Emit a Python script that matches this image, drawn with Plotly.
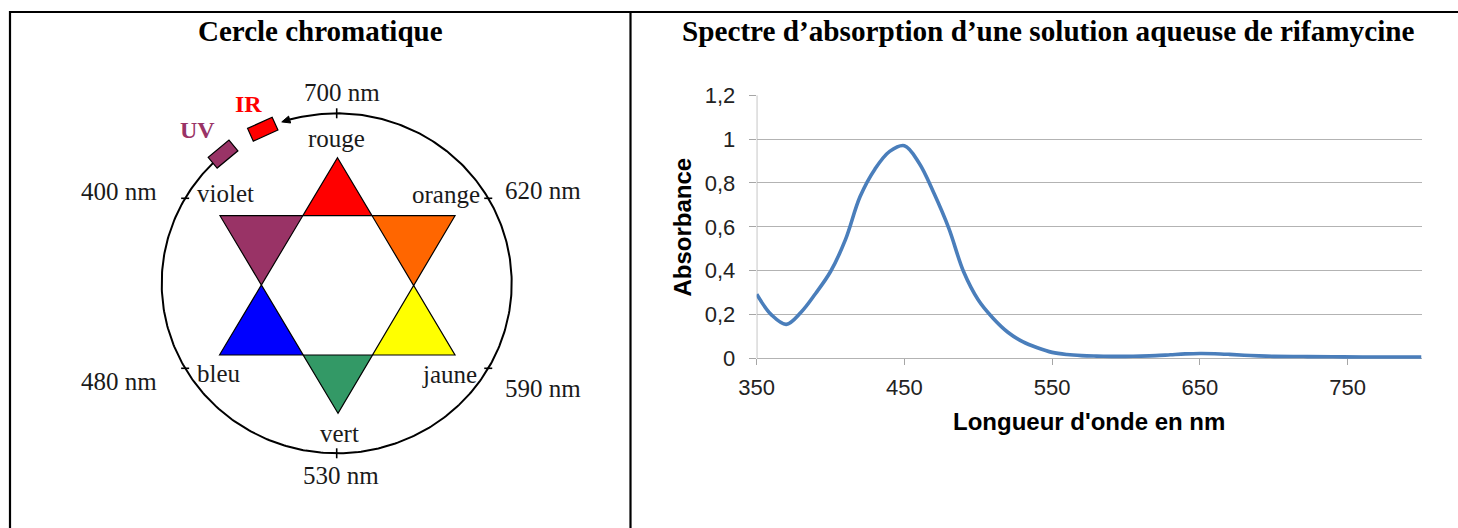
import math
import plotly.graph_objects as go

# ---------------- data ----------------
wavelength_nm = [350, 360, 370, 380, 390, 400, 410, 420, 430, 440, 450, 460, 470, 480, 490,
                 500, 510, 520, 530, 540, 550, 560, 570, 580, 590, 600, 610, 620, 630, 640,
                 650, 660, 670, 680, 690, 700, 720, 740, 760, 780, 800]
absorbance = [0.292, 0.198, 0.155, 0.21, 0.297, 0.396, 0.54, 0.738, 0.863, 0.944, 0.97, 0.89, 0.753, 0.594, 0.396,
              0.266, 0.183, 0.119, 0.076, 0.048, 0.027, 0.017, 0.012, 0.01, 0.009, 0.009, 0.01, 0.012, 0.016, 0.02,
              0.022, 0.021, 0.018, 0.014, 0.011, 0.009, 0.008, 0.007, 0.006, 0.006, 0.006]
x_ticks = [350, 450, 550, 650, 750]
y_ticks = [0, 0.2, 0.4, 0.6, 0.8, 1.0, 1.2]
y_tick_labels = ["0", "0,2", "0,4", "0,6", "0,8", "1", "1,2"]

wheel_wavelength_labels = ["700 nm", "620 nm", "590 nm", "530 nm", "480 nm", "400 nm"]
wheel_color_names = ["rouge", "orange", "jaune", "vert", "bleu", "violet"]
wheel_color_fills = ["#FF0000", "#FF6600", "#FFFF00", "#339966", "#0000FF", "#993366"]
outside_labels = ["IR", "UV"]
outside_colors = ["#FF0000", "#993366"]

left_title = "Cercle chromatique"
right_title = "Spectre d\u2019absorption d\u2019une solution aqueuse de rifamycine"
x_title = "Longueur d'onde en nm"
y_title = "Absorbance"

# ---------------- layout constants ----------------
W, H = 1458, 528
LEFT_W = 630
SERIF = "Liberation Serif"
SANS = "Liberation Sans"

cx, cy, rx, ry = 336.7, 283.3, 175.0, 170.0
tick_angles = [90, 30, -30, -90, -150, 150]
wl_pos = [(341.7, 92, "center"), (503.3, 190, "left"), (503.3, 388, "left"),
          (340.7, 475, "center"), (159.3, 381, "right"), (159.3, 191, "right")]
name_pos = [(336.7, 138.5, "center"), (481.7, 194, "right"), (478.5, 374, "right"),
            (339.3, 433, "center"), (195, 373, "left"), (195, 193, "left")]
outside_pos = [(248.3, 103.5), (197.3, 130)]
box_angles = [115, 130.5]
box_len, box_wid = 27, 14
arc_start, arc_end = 135.0, 360 + 105.6
arrow_tip_angle = 108.3

up_tri = [(337.5, 157.7), (455.0, 355.0), (219.5, 355.0)]
down_tri = [(220.0, 215.7), (455.0, 215.7), (338.0, 413.3)]


def ell(theta_deg, dr=0.0):
    t = math.radians(theta_deg)
    return (cx + (rx + dr) * math.cos(t), cy - (ry + dr) * math.sin(t))


def intersect(p1, p2, p3, p4):
    x1, y1 = p1; x2, y2 = p2; x3, y3 = p3; x4, y4 = p4
    d = (x1 - x2) * (y3 - y4) - (y1 - y2) * (x3 - x4)
    a = x1 * y2 - y1 * x2
    b = x3 * y4 - y3 * x4
    return ((a * (x3 - x4) - (x1 - x2) * b) / d, (a * (y3 - y4) - (y1 - y2) * b) / d)


def path(pts):
    return "M " + " L ".join(f"{x:.2f},{y:.2f}" for x, y in pts) + " Z"


fig = go.Figure()

# ---------------- right chart ----------------
px_per_unit = 263.0 / 1.2
y_min = -0.02
y_zero_px = 358.3
y_top_px = 95.3
y_bot_px = y_zero_px - y_min * px_per_unit
fig.add_trace(go.Scatter(
    x=wavelength_nm, y=absorbance, mode="lines",
    line=dict(color="#4A7EBB", width=3.6, shape="spline", smoothing=1.0),
    xaxis="x", yaxis="y", showlegend=False, hoverinfo="skip"))

# ---------------- left diagram ----------------
n = 400
arc_pts = [ell(arc_start + (arc_end - arc_start) * i / n) for i in range(n + 1)]
fig.add_trace(go.Scatter(
    x=[p[0] for p in arc_pts], y=[p[1] for p in arc_pts], mode="lines",
    line=dict(color="black", width=2), xaxis="x2", yaxis="y2",
    showlegend=False, hoverinfo="skip"))

shapes = []
P1 = intersect(up_tri[0], up_tri[2], down_tri[0], down_tri[1])
P2 = intersect(up_tri[0], up_tri[1], down_tri[0], down_tri[1])
P3 = intersect(up_tri[0], up_tri[1], down_tri[1], down_tri[2])
P4 = intersect(up_tri[1], up_tri[2], down_tri[1], down_tri[2])
P5 = intersect(up_tri[1], up_tri[2], down_tri[0], down_tri[2])
P6 = intersect(up_tri[0], up_tri[2], down_tri[0], down_tri[2])
point_tris = [
    [up_tri[0], P2, P1],
    [down_tri[1], P3, P2],
    [up_tri[1], P4, P3],
    [down_tri[2], P5, P4],
    [up_tri[2], P6, P5],
    [down_tri[0], P1, P6],
]
for tri, col in zip(point_tris, wheel_color_fills):
    shapes.append(dict(type="path", xref="x2", yref="y2", path=path(tri),
                       fillcolor=col, line=dict(color="black", width=1.2)))

for ang in tick_angles:
    x, y = ell(ang)
    if ang in (90, -90):
        x0, y0, x1, y1 = x, y - 5, x, y + 5
    else:
        x0, y0, x1, y1 = x - 4, y, x + 4, y
    shapes.append(dict(type="line", xref="x2", yref="y2", x0=x0, y0=y0, x1=x1, y1=y1,
                       line=dict(color="black", width=1.6)))

for ang, col in zip(box_angles, outside_colors):
    c = ell(ang)
    t = math.radians(ang)
    tx, ty = -rx * math.sin(t), -ry * math.cos(t)
    tl = math.hypot(tx, ty); tx, ty = tx / tl, ty / tl
    nx, ny = ty, -tx
    pts = []
    for a, b in [(1, 1), (1, -1), (-1, -1), (-1, 1)]:
        pts.append((c[0] + a * box_len / 2 * tx + b * box_wid / 2 * nx,
                    c[1] + a * box_len / 2 * ty + b * box_wid / 2 * ny))
    shapes.append(dict(type="path", xref="x2", yref="y2", path=path(pts),
                       fillcolor=col, line=dict(color="black", width=1.2)))

tip = ell(arrow_tip_angle)
base = ell(arc_end - 360)
bx, by = base[0] - tip[0], base[1] - tip[1]
bl = math.hypot(bx, by)
nx, ny = -by / bl * 3.6, bx / bl * 3.6
shapes.append(dict(type="path", xref="x2", yref="y2",
                   path=path([tip, (base[0] + nx, base[1] + ny), (base[0] - nx, base[1] - ny)]),
                   fillcolor="black", line=dict(color="black", width=1)))

shapes.append(dict(type="line", xref="x", yref="y", x0=x_ticks[0], x1=x_ticks[0], y0=0, y1=y_ticks[-1],
                   line=dict(color="#A6A6A6", width=1.3), layer="below"))


def px(xp):
    return xp / W


def py(yp):
    return 1 - yp / H


shapes += [
    dict(type="line", xref="paper", yref="paper", x0=px(9), x1=1.0, y0=py(12), y1=py(12),
         line=dict(color="black", width=2.2)),
    dict(type="line", xref="paper", yref="paper", x0=px(10), x1=px(10), y0=0, y1=py(11),
         line=dict(color="black", width=2.2)),
    dict(type="line", xref="paper", yref="paper", x0=px(630.5), x1=px(630.5), y0=0, y1=py(11),
         line=dict(color="black", width=2.2)),
]

annotations = []
annotations.append(dict(x=px(320), y=py(31), xref="paper", yref="paper", text=left_title,
                        showarrow=False, font=dict(family=SERIF, size=29, color="black", weight="bold"),
                        xanchor="center", yanchor="middle"))
annotations.append(dict(x=px(1048), y=py(31), xref="paper", yref="paper", text=right_title,
                        showarrow=False, font=dict(family=SERIF, size=29.2, color="black", weight="bold"),
                        xanchor="center", yanchor="middle"))
for txt, (x, y, anc) in zip(wheel_wavelength_labels, wl_pos):
    annotations.append(dict(x=x, y=y, xref="x2", yref="y2", text=txt, showarrow=False,
                            font=dict(family=SERIF, size=25, color="#1a1a1a"),
                            xanchor=anc, yanchor="middle"))
for txt, (x, y, anc) in zip(wheel_color_names, name_pos):
    annotations.append(dict(x=x, y=y, xref="x2", yref="y2", text=txt, showarrow=False,
                            font=dict(family=SERIF, size=25, color="#1a1a1a"),
                            xanchor=anc, yanchor="middle"))
for txt, col, (x, y) in zip(outside_labels, outside_colors, outside_pos):
    annotations.append(dict(x=x, y=y, xref="x2", yref="y2", text=txt, showarrow=False,
                            font=dict(family=SERIF, size=24, color=col, weight="bold"),
                            xanchor="center", yanchor="middle"))
annotations.append(dict(x=px(1089), y=py(421.5), xref="paper", yref="paper", text=x_title,
                        showarrow=False, font=dict(family=SANS, size=24, color="black", weight="bold"),
                        xanchor="center", yanchor="middle"))
annotations.append(dict(x=px(681.5), y=py(227), xref="paper", yref="paper", text=y_title,
                        showarrow=False, textangle=-90,
                        font=dict(family=SANS, size=24, color="black", weight="bold"),
                        xanchor="center", yanchor="middle"))

fig.update_layout(
    width=W, height=H, autosize=False,
    margin=dict(l=0, r=0, t=0, b=0, pad=0, autoexpand=False),
    paper_bgcolor="white", plot_bgcolor="rgba(0,0,0,0)",
    showlegend=False,
    shapes=shapes,
    annotations=annotations,
    xaxis=dict(domain=[px(756.7), px(1421.5)], range=[350, 800], tickvals=x_ticks,
               ticktext=[str(v) for v in x_ticks], showgrid=False, zeroline=False, showline=False,
               ticks="outside", ticklen=6, tickwidth=1.3, tickcolor="#A6A6A6",
               tickfont=dict(family=SANS, size=22, color="#222222"), ticklabelstandoff=3,
               anchor="free", position=py(y_zero_px), fixedrange=True, automargin=False),
    yaxis=dict(domain=[py(y_bot_px), py(y_top_px)], range=[y_min, 1.2], tickvals=y_ticks,
               ticktext=y_tick_labels, showgrid=True, gridcolor="#B3B3B3", gridwidth=1.3,
               zeroline=False, showline=False, ticks="outside", ticklen=7, tickwidth=1.3,
               tickcolor="#A6A6A6", tickfont=dict(family=SANS, size=22, color="#222222"),
               ticklabelstandoff=9,
               anchor="x", fixedrange=True, automargin=False),
    xaxis2=dict(domain=[0, px(LEFT_W)], range=[0, LEFT_W], visible=False, fixedrange=True,
                automargin=False),
    yaxis2=dict(domain=[0, 1], range=[H, 0], visible=False, fixedrange=True, anchor="x2",
                automargin=False),
)

fig.write_html("out.html", config={"displayModeBar": False},
               post_script="document.body.style.margin='0';document.body.style.overflow='hidden';")
